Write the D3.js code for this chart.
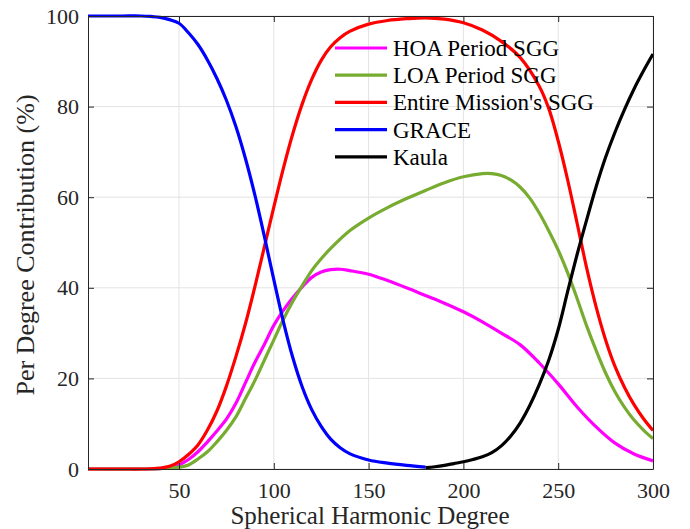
<!DOCTYPE html>
<html>
<head>
<meta charset="utf-8">
<script src="https://cdn.jsdelivr.net/npm/d3@7"></script>
</head>
<body style="margin:0">
<svg id="fig" width="690" height="529"></svg>
<script>
// per-degree contribution (%)
const hoaDeg = [2, 30, 40, 45, 50, 55, 60, 65, 70, 75, 80, 85, 90, 95, 100, 105, 110, 115, 120, 125, 130, 135, 140, 150, 160, 170, 180, 190, 200, 210, 220, 230, 240, 250, 260, 270, 280, 290, 300];
const hoaVal = [0, 0, 0.1, 0.3, 0.9, 2.1, 3.8, 6, 8.4, 11, 14.5, 19, 23.5, 27.5, 31.7, 35, 37.8, 40.2, 42.3, 43.5, 44, 44.1, 43.8, 43, 41.6, 40, 38.3, 36.6, 34.7, 32.5, 30, 27.4, 23.4, 18.8, 13.7, 9.3, 5.7, 3.3, 1.8];

const loaDeg = [2, 30, 40, 45, 50, 55, 60, 65, 70, 75, 80, 85, 90, 95, 100, 105, 110, 115, 120, 125, 130, 140, 150, 160, 170, 180, 190, 200, 210, 215, 220, 225, 230, 235, 240, 245, 250, 255, 260, 265, 270, 275, 280, 285, 290, 295, 300];
const loaVal = [0, 0, 0.05, 0.2, 0.4, 0.9, 2.2, 3.8, 6, 8.5, 11.5, 15.5, 19.5, 24, 28.5, 33, 37, 40.5, 43.8, 46.4, 48.7, 52.6, 55.4, 57.7, 59.7, 61.5, 63.2, 64.5, 65.2, 65.2, 64.8, 63.8, 62.2, 59.8, 56.5, 52.6, 48.3, 43.3, 37.6, 31.6, 26.2, 21.2, 17, 13.6, 10.8, 8.6, 6.7];

const allDeg = [2, 20, 30, 35, 40, 45, 50, 55, 60, 65, 70, 75, 80, 85, 90, 95, 100, 105, 110, 115, 120, 125, 130, 135, 140, 150, 160, 170, 180, 190, 200, 210, 220, 230, 240, 245, 250, 255, 260, 265, 270, 275, 280, 285, 290, 295, 300];
const allVal = [0, 0, 0, 0.05, 0.2, 0.6, 1.6, 3.2, 5.3, 8.6, 12.8, 18.3, 24.8, 32, 40.2, 49, 57.8, 66.3, 74, 80.6, 86, 90.2, 93.2, 95.2, 96.6, 98.2, 99, 99.4, 99.6, 99.3, 98.5, 96.9, 94.4, 90.8, 84.5, 79.6, 72.4, 63.8, 54.2, 44.4, 35.8, 28.5, 22.6, 18, 14.2, 11.1, 8.5];

const graceDeg = [2, 10, 20, 30, 35, 40, 45, 50, 55, 60, 65, 70, 75, 80, 85, 90, 95, 100, 105, 110, 115, 120, 125, 130, 135, 140, 150, 160, 170, 180];
const graceVal = [100, 100, 100, 100, 99.9, 99.7, 99.2, 98.4, 96.3, 93.7, 90.3, 86.2, 81.4, 75.6, 68.6, 60.5, 51.4, 41.8, 32.6, 24.6, 18.1, 13.1, 9.4, 6.6, 4.7, 3.4, 2, 1.3, 0.8, 0.4];

const kaulaDeg = [180, 185, 190, 195, 200, 205, 210, 215, 220, 225, 230, 235, 240, 245, 250, 255, 260, 265, 270, 275, 280, 285, 290, 295, 300];
const kaulaVal = [0.3, 0.5, 0.8, 1.2, 1.6, 2.1, 2.7, 3.6, 5.1, 7.3, 10.2, 14, 18.6, 24, 30.8, 39.2, 47.4, 55, 62.3, 68.8, 74.4, 79.4, 83.9, 87.9, 91.6];

const seriesNames = ["HOA Period SGG", "LOA Period SGG", "Entire Mission's SGG", "GRACE", "Kaula"];
const seriesColors = ["#ff00ff", "#77ac30", "#ff0000", "#0000ff", "#000000"];
const xTicks = [50, 100, 150, 200, 250, 300];
const yTicks = [0, 20, 40, 60, 80, 100];

const series = [
  { name: seriesNames[0], color: seriesColors[0], deg: hoaDeg, val: hoaVal },
  { name: seriesNames[1], color: seriesColors[1], deg: loaDeg, val: loaVal },
  { name: seriesNames[2], color: seriesColors[2], deg: allDeg, val: allVal },
  { name: seriesNames[3], color: seriesColors[3], deg: graceDeg, val: graceVal },
  { name: seriesNames[4], color: seriesColors[4], deg: kaulaDeg, val: kaulaVal }
];

const width = 690, height = 529;
const margin = { left: 88, top: 16, right: 37, bottom: 60 };
const svg = d3.select('#fig');

const x = d3.scaleLinear().domain([2, 300]).range([margin.left, width - margin.right]);
const y = d3.scaleLinear().domain([0, 100]).range([height - margin.bottom, margin.top]);

// grid
svg.append('g').selectAll('line').data(xTicks).join('line')
  .attr('x1', d => x(d)).attr('x2', d => x(d))
  .attr('y1', y(0)).attr('y2', y(100))
  .attr('stroke', '#e3e3e3');
svg.append('g').selectAll('line').data(yTicks).join('line')
  .attr('x1', x(2)).attr('x2', x(300))
  .attr('y1', d => y(d)).attr('y2', d => y(d))
  .attr('stroke', '#e3e3e3');

// curves
const line = d3.line().curve(d3.curveCatmullRom.alpha(0.5));
svg.append('g').selectAll('path').data(series).join('path')
  .attr('d', s => line(s.deg.map((d, i) => [x(d), y(s.val[i])])))
  .attr('fill', 'none')
  .attr('stroke', s => s.color)
  .attr('stroke-width', 3.2)
  .attr('stroke-linejoin', 'round');

// axes, ticks inward, closed box
const tidy = g => {
  g.select('.domain').attr('stroke', '#262626');
  g.selectAll('.tick line').attr('stroke', '#262626');
  g.selectAll('.tick text').attr('fill', '#262626')
    .attr('font-family', 'Liberation Serif').attr('font-size', 22);
};
svg.append('g').attr('transform', `translate(0,${y(0)})`)
  .call(d3.axisBottom(x).tickValues(xTicks).tickSizeInner(-6).tickSizeOuter(0).tickPadding(13))
  .call(tidy);
svg.append('g').attr('transform', `translate(${x(2)},0)`)
  .call(d3.axisLeft(y).tickValues(yTicks).tickSizeInner(-6).tickSizeOuter(0).tickPadding(9))
  .call(tidy);
svg.append('g').attr('transform', `translate(0,${y(100)})`)
  .call(d3.axisTop(x).tickValues(xTicks).tickSizeInner(-6).tickSizeOuter(0).tickFormat(''))
  .call(tidy);
svg.append('g').attr('transform', `translate(${x(300)},0)`)
  .call(d3.axisRight(y).tickValues(yTicks).tickSizeInner(-6).tickSizeOuter(0).tickFormat(''))
  .call(tidy);

// axis titles
svg.append('text')
  .attr('x', 370).attr('y', 524)
  .attr('text-anchor', 'middle')
  .attr('font-family', 'Liberation Serif').attr('font-size', 25).attr('fill', '#262626')
  .text('Spherical Harmonic Degree');
svg.append('text')
  .attr('transform', 'translate(34,245) rotate(-90)')
  .attr('text-anchor', 'middle')
  .attr('font-family', 'Liberation Serif').attr('font-size', 26).attr('fill', '#262626')
  .text('Per Degree Contribution (%)');

// legend
const legend = svg.append('g').selectAll('g').data(series).join('g')
  .attr('transform', (d, i) => `translate(335,${48 + i * 27.2})`);
legend.append('line')
  .attr('x1', 0).attr('x2', 52)
  .attr('stroke', d => d.color).attr('stroke-width', 3.2);
legend.append('text')
  .attr('x', 58).attr('y', 8)
  .attr('font-family', 'Liberation Serif').attr('font-size', 23).attr('fill', '#000')
  .text(d => d.name);
</script>
</body>
</html>
